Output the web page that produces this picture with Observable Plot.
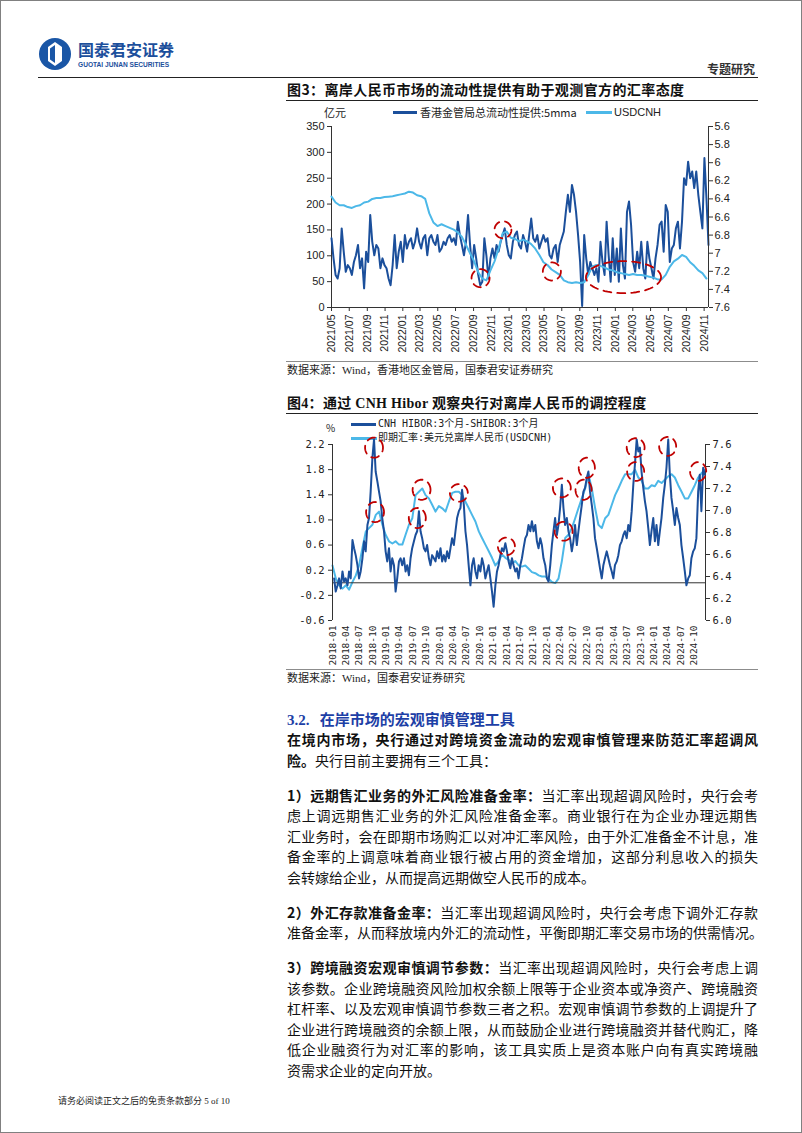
<!DOCTYPE html>
<html><head><meta charset="utf-8">
<script src="https://cdn.jsdelivr.net/npm/d3@7"></script>
<script src="https://cdn.jsdelivr.net/npm/@observablehq/plot@0.6"></script>
<style>
html,body{margin:0;padding:0;background:#fff;}
#page{position:relative;width:802px;height:1133px;overflow:hidden;font-family:"Noto Sans CJK SC",sans-serif;color:#111;box-sizing:border-box;border:1.5px solid #808080;}
.abs{position:absolute;white-space:nowrap;}
.hl{position:absolute;height:0;}
.chart{position:absolute;}
.chart svg{position:absolute;left:0;top:0;}
.body{position:absolute;left:286px;width:471px;font-size:14px;line-height:20px;white-space:nowrap;text-align:justify;text-align-last:justify;}
.body.last{text-align-last:left;}
.b{font-weight:700;}
.sw{position:absolute;height:2.5px;}
</style></head><body><div id="page">

<svg class="abs" style="left:37px;top:36px" width="34" height="34" viewBox="0 0 34 34">
  <circle cx="17" cy="17" r="16" fill="#1a56a6"/>
  <polygon points="17,5 24,10 24,24 17,29 10,24 10,10" fill="#fff"/>
  <polygon points="17,8 12,11.5 12,22.5 17,26" fill="#1a56a6"/>
</svg>
<div class="abs" style="left:77px;top:38px;font-size:16px;line-height:21px;font-weight:700;color:#1c4f9c">国泰君安证券</div>
<div class="abs" style="left:77px;top:59px;font-family:'Liberation Sans',Arial,sans-serif;font-size:6.6px;line-height:9px;font-weight:700;color:#1c4f9c">GUOTAI JUNAN SECURITIES</div>
<div class="abs" style="left:706px;top:61px;font-size:12px;line-height:14px;font-weight:700;color:#333">专题研究</div>
<div class="hl" style="left:37px;top:76px;width:720px;border-top:1.5px solid #222"></div>

<div class="abs" style="left:286px;top:79px;font-size:14px;line-height:18px;font-weight:700;letter-spacing:0.4px">图3：离岸人民币市场的流动性提供有助于观测官方的汇率态度</div>
<div class="hl" style="left:285px;top:99px;width:472px;border-top:1px solid #222"></div>

<div class="abs" style="left:323px;top:104px;font-size:11px;line-height:14px;color:#222">亿元</div>
<div class="sw" style="left:392px;top:110px;width:24px;background:#1b4f9b"></div>
<div class="abs" style="left:419px;top:104px;font-size:11px;line-height:14px;color:#222">香港金管局总流动性提供:5mma</div>
<div class="sw" style="left:585px;top:110px;width:26px;background:#4cb8e8"></div>
<div class="abs" style="left:613px;top:104px;font-family:'Liberation Sans',Arial,sans-serif;font-size:11px;line-height:14px;color:#222">USDCNH</div>
<div id="fig3" class="chart" style="left:285px;top:100px;width:472px;height:260px"></div>

<div class="hl" style="left:285px;top:360px;width:472px;border-top:1.5px solid #8c8c8c"></div>
<div class="abs" style="left:286px;top:362px;font-family:'Liberation Serif','Noto Sans CJK SC',serif;font-size:11px;line-height:15px;color:#222">数据来源：Wind，香港地区金管局，国泰君安证券研究</div>

<div class="abs" style="left:286px;top:394px;font-family:'Liberation Serif','Noto Sans CJK SC',serif;font-size:14px;line-height:18px;font-weight:700;letter-spacing:0.3px">图4：通过 CNH Hibor 观察央行对离岸人民币的调控程度</div>
<div class="hl" style="left:285px;top:412px;width:472px;border-top:1px solid #222"></div>

<div class="abs" style="left:325px;top:420px;font-size:10px;line-height:13px;color:#222">%</div>
<div class="sw" style="left:350px;top:422px;width:25px;background:#1b4f9b"></div>
<div class="abs" style="left:377px;top:416px;font-family:'DejaVu Sans Mono','Noto Sans CJK SC',monospace;font-size:10px;line-height:14px;color:#222">CNH HIBOR:3个月-SHIBOR:3个月</div>
<div class="sw" style="left:350px;top:435.5px;width:26px;background:#4cb8e8;height:3px"></div>
<div class="abs" style="left:377px;top:430px;font-family:'DejaVu Sans Mono','Noto Sans CJK SC',monospace;font-size:10px;line-height:14px;color:#222">即期汇率:美元兑离岸人民币(USDCNH)</div>
<div id="fig4" class="chart" style="left:285px;top:415px;width:472px;height:253px"></div>

<div class="hl" style="left:285px;top:668px;width:472px;border-top:1.5px solid #8c8c8c"></div>
<div class="abs" style="left:286px;top:670px;font-family:'Liberation Serif','Noto Sans CJK SC',serif;font-size:11px;line-height:15px;color:#222">数据来源：Wind，国泰君安证券研究</div>

<div class="abs" style="left:286px;top:708px;font-size:15px;line-height:20px;font-weight:700;color:#1d3fa6"><span style="font-family:'Liberation Serif',serif">3.2.</span>&nbsp;&nbsp;&nbsp;在岸市场的宏观审慎管理工具</div>

<div class="body b" style="top:728px">在境内市场，央行通过对跨境资金流动的宏观审慎管理来防范汇率超调风</div>
<div class="body last" style="top:748.5px"><span class="b">险。</span>央行目前主要拥有三个工具：</div>

<div class="body" style="top:783.5px"><span class="b">1）远期售汇业务的外汇风险准备金率：</span>当汇率出现超调风险时，央行会考</div>
<div class="body" style="top:804px">虑上调远期售汇业务的外汇风险准备金率。商业银行在为企业办理远期售</div>
<div class="body" style="top:824.5px">汇业务时，会在即期市场购汇以对冲汇率风险，由于外汇准备金不计息，准</div>
<div class="body" style="top:845px">备金率的上调意味着商业银行被占用的资金增加，这部分利息收入的损失</div>
<div class="body last" style="top:865.5px">会转嫁给企业，从而提高远期做空人民币的成本。</div>

<div class="body" style="top:900.5px"><span class="b">2）外汇存款准备金率：</span>当汇率出现超调风险时，央行会考虑下调外汇存款</div>
<div class="body" style="top:921px">准备金率，从而释放境内外汇的流动性，平衡即期汇率交易市场的供需情况。</div>

<div class="body" style="top:956px"><span class="b">3）跨境融资宏观审慎调节参数：</span>当汇率出现超调风险时，央行会考虑上调</div>
<div class="body" style="top:976.5px">该参数。企业跨境融资风险加权余额上限等于企业资本或净资产、跨境融资</div>
<div class="body" style="top:997px">杠杆率、以及宏观审慎调节参数三者之积。宏观审慎调节参数的上调提升了</div>
<div class="body" style="top:1017.5px">企业进行跨境融资的余额上限，从而鼓励企业进行跨境融资并替代购汇，降</div>
<div class="body" style="top:1038px">低企业融资行为对汇率的影响，该工具实质上是资本账户向有真实跨境融</div>
<div class="body last" style="top:1058.5px">资需求企业的定向开放。</div>

<div class="abs" style="left:57px;top:1093px;font-family:'Liberation Serif','Noto Sans CJK SC',serif;font-size:9px;line-height:14px;color:#222">请务必阅读正文之后的免责条款部分 5 of 10</div>

</div>
<script>
const DARK = "#1b4f9b", LIGHT = "#4cb8e8", RED = "#c00000";

// ---------- Figure 3 data ----------
const fig3LiquidityStart = "2021-05-01";
const fig3LiquidityStepDays = 7;
const fig3Liquidity = [
 134,95,63,56,76,153,108,69,82,76,
 63,88,101,121,76,95,37,108,88,179,
 127,101,121,114,76,95,82,76,56,43,
 82,140,76,108,127,88,140,114,127,134,
 114,127,153,127,114,134,140,101,134,140,
 127,121,140,108,114,127,121,134,140,127,
 134,121,166,140,121,101,127,179,121,76,
 121,95,63,43,50,134,101,56,95,114,
 95,121,108,127,140,153,121,101,95,127,
 140,147,121,114,140,127,108,140,172,134,
 127,140,114,127,140,127,134,101,95,114,
 121,88,121,134,147,185,218,185,237,218,
 185,140,88,3,140,95,63,88,76,63,
 76,50,127,88,63,166,101,50,134,63,
 114,50,153,82,56,185,205,160,88,69,
 108,76,127,76,56,127,95,76,56,95,
 121,160,166,108,198,185,88,114,121,153,
 166,114,166,250,237,282,250,263,231,263,
 218,185,153,289,211,121];
const fig3UsdcnhStart = "2021-05-01";
const fig3UsdcnhStepDays = 14;
const fig3Usdcnh = [
 6.375,6.44,6.47,6.47,6.49,6.50,6.48,6.47,6.44,6.43,
 6.40,6.39,6.39,6.38,6.375,6.37,6.36,6.35,6.34,6.32,
 6.33,6.36,6.37,6.40,6.56,6.66,6.70,6.68,6.70,6.72,
 6.74,6.77,6.82,6.91,7.00,7.09,7.21,7.28,7.30,7.19,
 7.09,6.95,6.78,6.76,6.83,6.84,6.87,6.85,6.87,6.90,
 6.95,7.02,7.10,7.13,7.18,7.21,7.24,7.30,7.32,7.33,
 7.32,7.33,7.32,7.24,7.15,7.13,7.14,7.16,7.18,7.19,
 7.21,7.22,7.23,7.24,7.23,7.24,7.24,7.25,7.26,7.27,
 7.29,7.29,7.24,7.15,7.09,7.06,7.02,7.04,7.10,7.14,
 7.19,7.22,7.28];
const fig3XDomain = ["2021-05-01", "2024-11-16"];
const fig3XTicks = ["2021-05","2021-07","2021-09","2021-11","2022-01","2022-03","2022-05","2022-07","2022-09","2022-11",
 "2023-01","2023-03","2023-05","2023-07","2023-09","2023-11","2024-01","2024-03","2024-05","2024-07","2024-09","2024-11"];
const fig3LeftTicks = [0,50,100,150,200,250,300,350];
const fig3RightTicks = [5.6,5.8,6,6.2,6.4,6.6,6.8,7,7.2,7.4,7.6];
// red dashed highlight ellipses (centre date, centre USDCNH value, half-width in days, half-height)
const fig3Marks = [
 {date:"2022-09-25", value:7.276, rxDays:31, ry:0.10},
 {date:"2022-12-11", value:6.741, rxDays:29, ry:0.094},
 {date:"2023-05-28", value:7.202, rxDays:31, ry:0.10},
 {date:"2024-01-29", value:7.265, rxDays:129, ry:0.177}];

// ---------- Figure 4 data ----------
const fig4SpreadStart = "2018-01-12";
const fig4SpreadStepDays = 11.327;
const fig4Spread = [
 0.07,-0.14,-0.04,0.07,-0.09,0.18,0.02,0.07,-0.04,0.18,
 0.07,0.68,0.55,0.44,0.28,0.07,0.18,0.39,0.66,0.50,
 0.92,1.03,1.45,1.99,2.28,1.77,1.61,1.45,1.30,1.03,
 0.82,0.50,0.34,0.55,0.18,0.39,0.28,-0.14,0.07,0.34,
 0.39,0.28,0.39,0.18,0.28,0.12,0.39,0.55,0.66,0.76,
 0.82,1.14,0.82,0.71,0.55,0.50,0.60,0.39,0.28,0.44,
 0.39,0.34,0.50,0.39,0.55,0.34,0.44,0.34,0.50,0.39,
 0.55,0.71,0.60,0.82,1.03,1.14,1.19,1.48,1.24,0.82,
 0.60,0.28,-0.04,0.28,0.39,0.18,0.07,0.28,0.18,0.39,
 0.28,0.07,0.18,0.28,0.07,-0.14,-0.38,-0.04,0.18,0.28,
 0.44,0.55,0.50,0.63,0.50,0.34,0.23,0.39,0.28,0.18,
 0.23,0.07,0.28,0.39,0.55,0.71,0.76,0.92,0.82,0.98,
 0.82,0.92,0.66,0.55,0.71,0.60,0.39,0.28,0.07,0.02,
 0.28,0.60,0.82,1.03,0.76,0.92,1.19,1.56,1.19,0.92,
 1.03,0.82,0.71,0.50,0.66,0.92,0.60,0.82,1.03,1.24,
 1.45,1.51,1.67,1.77,1.45,1.24,1.03,0.71,0.55,0.39,
 0.23,0.07,0.28,0.39,0.50,0.39,0.28,0.18,0.07,0.28,
 0.34,0.44,0.60,0.66,0.76,0.82,0.71,0.92,0.82,1.14,
 1.56,1.88,2.28,2.09,2.15,1.77,1.51,1.30,1.14,0.87,
 0.60,0.82,1.03,0.66,0.92,0.60,0.82,1.03,1.35,1.56,
 1.83,2.28,1.72,1.35,1.14,0.92,1.19,1.03,0.92,0.60,
 0.39,0.18,-0.04,0.07,0.12,0.39,0.50,0.55,0.71,1.45,
 1.72,1.14,1.83,1.72];
const fig4UsdcnhStart = "2018-01-01";
const fig4UsdcnhStepDays = 22.654;
const fig4Usdcnh = [
 6.50,6.38,6.32,6.29,6.32,6.28,6.35,6.41,6.50,6.66,
 6.81,6.84,6.87,6.96,6.99,6.87,6.78,6.72,6.70,6.72,
 6.69,6.69,6.78,6.87,6.93,7.14,7.17,7.20,7.14,7.11,
 7.05,6.99,7.04,7.02,6.99,7.08,7.16,7.17,7.17,7.14,
 7.08,7.02,6.96,6.90,6.81,6.75,6.69,6.63,6.57,6.50,
 6.54,6.60,6.57,6.55,6.52,6.54,6.50,6.49,6.50,6.47,
 6.44,6.43,6.41,6.40,6.40,6.38,6.35,6.34,6.38,6.54,
 6.75,6.78,6.84,6.93,7.02,7.11,7.20,7.33,7.20,7.02,
 6.87,6.84,6.93,6.96,7.05,7.14,7.20,7.27,7.33,7.33,
 7.33,7.37,7.30,7.27,7.20,7.20,7.23,7.22,7.27,7.25,
 7.28,7.31,7.33,7.30,7.23,7.17,7.11,7.11,7.17,7.23,
 7.30,7.34,7.37];
const fig4XDomain = ["2018-01-01", "2024-12-17"];
const fig4XTicks = ["2018-01","2018-04","2018-07","2018-10","2019-01","2019-04","2019-07","2019-10",
 "2020-01","2020-04","2020-07","2020-10","2021-01","2021-04","2021-07","2021-10",
 "2022-01","2022-04","2022-07","2022-10","2023-01","2023-04","2023-07","2023-10",
 "2024-01","2024-04","2024-07","2024-10"];
const fig4LeftTicks = [-0.6,-0.2,0.2,0.6,1.0,1.4,1.8,2.2];
const fig4RightTicks = [6.0,6.2,6.4,6.6,6.8,7.0,7.2,7.4,7.6];
// red dashed highlight ellipses (centre date, centre spread value, half-width in days, half-height)
const fig4Marks = [
 {date:"2018-10-11", value:2.15, rxDays:61, ry:0.16},
 {date:"2018-10-18", value:1.125, rxDays:61, ry:0.16},
 {date:"2019-08-31", value:1.48, rxDays:61, ry:0.16},
 {date:"2019-08-02", value:1.03, rxDays:58, ry:0.16},
 {date:"2020-05-11", value:1.43, rxDays:61, ry:0.14},
 {date:"2021-03-31", value:0.58, rxDays:58, ry:0.14},
 {date:"2022-04-13", value:1.51, rxDays:61, ry:0.15},
 {date:"2022-04-25", value:0.82, rxDays:61, ry:0.15},
 {date:"2022-09-30", value:1.83, rxDays:55, ry:0.16},
 {date:"2022-09-08", value:1.48, rxDays:55, ry:0.16},
 {date:"2023-08-29", value:2.15, rxDays:61, ry:0.15},
 {date:"2023-08-29", value:1.77, rxDays:58, ry:0.15},
 {date:"2024-04-03", value:2.17, rxDays:58, ry:0.15},
 {date:"2024-10-28", value:1.77, rxDays:55, ry:0.15}];

// ---------- helpers ----------
const parseDay = d3.utcParse("%Y-%m-%d");
const parseMonth = d3.utcParse("%Y-%m");
function series(start, stepDays, values) {
  const t0 = +parseDay(start);
  return values.map((v, i) => ({date: new Date(t0 + Math.round(i * stepDays) * 864e5), value: v}));
}
function ellipses(list) {
  const pts = [];
  list.forEach((e, id) => {
    const c = +parseDay(e.date);
    for (let i = 0; i <= 72; i++) {
      const t = i / 72 * 2 * Math.PI;
      pts.push({id, date: new Date(c + e.rxDays * 864e5 * Math.cos(t)), value: e.value + e.ry * Math.sin(t)});
    }
  });
  return pts;
}
const numFmt = d => String(d);
const fix1 = d => d.toFixed(1);

// ---------- Figure 3 ----------
{
  const W = 472, H = 260;
  const M = {marginLeft: 45, marginRight: 50, marginTop: 25, marginBottom: 54};
  const xd = fig3XDomain.map(parseDay);
  const liq = series(fig3LiquidityStart, fig3LiquidityStepDays, fig3Liquidity);
  const usd = series(fig3UsdcnhStart, fig3UsdcnhStepDays, fig3Usdcnh);
  const st = {background: "transparent", fontFamily: "'Liberation Sans', Arial, sans-serif", fontSize: "11px", color: "#222", overflow: "visible"};
  const base = Plot.plot({
    width: W, height: H, ...M, style: st,
    x: {type: "utc", domain: xd, label: null},
    y: {domain: [0, 350], label: null},
    marks: [
      Plot.axisY({ticks: fig3LeftTicks, tickFormat: numFmt, tickSize: 4, tickPadding: 3, label: null, stroke: "#333"}),
      Plot.axisX({ticks: fig3XTicks.map(parseMonth), tickFormat: d3.utcFormat("%Y/%m"), tickRotate: -90, tickSize: 4, tickPadding: 3, label: null, fontSize: 10.5, stroke: "#333"}),
      Plot.ruleX([xd[0]], {stroke: "#333"}),
      Plot.ruleY([0], {stroke: "#333"}),
      Plot.line(liq, {x: "date", y: "value", stroke: DARK, strokeWidth: 2})
    ]
  });
  const over = Plot.plot({
    width: W, height: H, ...M, style: st,
    x: {type: "utc", domain: xd, axis: null},
    y: {domain: [5.6, 7.6], reverse: true, label: null},
    marks: [
      Plot.axisY({anchor: "right", ticks: fig3RightTicks, tickFormat: numFmt, tickSize: 4, tickPadding: 2, label: null, stroke: "#333"}),
      Plot.ruleX([xd[1]], {stroke: "#333"}),
      Plot.line(usd, {x: "date", y: "value", stroke: LIGHT, strokeWidth: 2}),
      Plot.line(ellipses(fig3Marks), {x: "date", y: "value", z: "id", stroke: RED, strokeWidth: 1.8, strokeDasharray: "8,6", curve: "linear"})
    ]
  });
  document.getElementById("fig3").append(base, over);
}

// ---------- Figure 4 ----------
{
  const W = 472, H = 253;
  const M = {marginLeft: 46, marginRight: 53, marginTop: 28, marginBottom: 49};
  const xd = fig4XDomain.map(parseDay);
  const spr = series(fig4SpreadStart, fig4SpreadStepDays, fig4Spread);
  const usd = series(fig4UsdcnhStart, fig4UsdcnhStepDays, fig4Usdcnh);
  const st = {background: "transparent", fontFamily: "'DejaVu Sans Mono', monospace", fontSize: "10.5px", color: "#222", overflow: "visible"};
  const base = Plot.plot({
    width: W, height: H, ...M, style: st,
    x: {type: "utc", domain: xd, label: null},
    y: {domain: [6.0, 7.6], label: null},
    marks: [
      Plot.axisY({anchor: "right", ticks: fig4RightTicks, tickFormat: fix1, tickSize: 4, tickPadding: 3, label: null, stroke: "#333"}),
      Plot.axisX({ticks: fig4XTicks.map(parseMonth), tickFormat: d3.utcFormat("%Y-%m"), tickRotate: -90, tickSize: 0, tickPadding: 5, label: null, fontSize: 9.5}),
      Plot.ruleX([xd[1]], {stroke: "#333"}),
      Plot.line(usd, {x: "date", y: "value", stroke: LIGHT, strokeWidth: 2})
    ]
  });
  const over = Plot.plot({
    width: W, height: H, ...M, style: st,
    x: {type: "utc", domain: xd, axis: null},
    y: {domain: [-0.6, 2.2], label: null},
    marks: [
      Plot.axisY({ticks: fig4LeftTicks, tickFormat: fix1, tickSize: 4, tickPadding: 4, label: null, stroke: "#333"}),
      Plot.ruleX([xd[0]], {stroke: "#333"}),
      Plot.ruleY([0], {stroke: "#333"}),
      Plot.line(spr, {x: "date", y: "value", stroke: DARK, strokeWidth: 2}),
      Plot.line(ellipses(fig4Marks), {x: "date", y: "value", z: "id", stroke: RED, strokeWidth: 1.8, strokeDasharray: "8,6", curve: "linear"})
    ]
  });
  document.getElementById("fig4").append(base, over);
}
</script>
</body></html>
